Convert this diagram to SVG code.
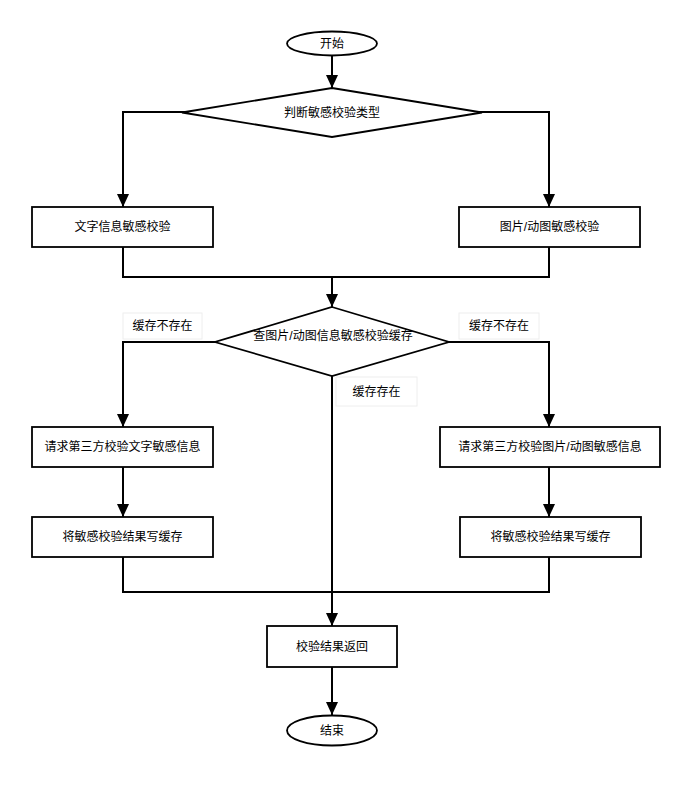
<svg xmlns="http://www.w3.org/2000/svg" width="699" height="800" viewBox="0 0 699 800">
<style>
.n{fill:#fff;stroke:#000;stroke-width:1.8}
.t{font-family:"Liberation Sans","Noto Sans CJK SC",sans-serif;font-size:12px;fill:#000;text-anchor:middle;dominant-baseline:central}
.c{fill:none;stroke:#000;stroke-width:2}
.lb{fill:#fff;stroke:#eeeeee;stroke-width:1}
</style>
<defs>
<marker id="ah" markerWidth="13" markerHeight="12" refX="13" refY="6" orient="auto" markerUnits="userSpaceOnUse">
<path d="M0,0 L13,6 L0,12 Z" fill="#000"/>
</marker>
</defs>
<rect width="699" height="800" fill="#fff"/>
<g id="connectors">
<path class="c" d="M332,55 V88" marker-end="url(#ah)"/>
<path class="c" d="M215,112 H123 V207" marker-end="url(#ah)"/>
<path class="c" d="M449,112 H549 V207" marker-end="url(#ah)"/>
<path class="c" d="M123,247 V277 H549 V247"/>
<path class="c" d="M332,277 V307" marker-end="url(#ah)"/>
<path class="c" d="M215,342 H123 V427" marker-end="url(#ah)"/>
<path class="c" d="M449,342 H549 V427" marker-end="url(#ah)"/>
<path class="c" d="M123,467 V517" marker-end="url(#ah)"/>
<path class="c" d="M549,467 V517" marker-end="url(#ah)"/>
<path class="c" d="M123,557 V592 H549 V557"/>
<path class="c" d="M332,376 V626" marker-end="url(#ah)"/>
<path class="c" d="M332,667 V715" marker-end="url(#ah)"/>
</g>
<g id="start"><ellipse class="n" cx="332" cy="43.5" rx="45" ry="12"/><text class="t" x="332" y="44">开始</text></g>
<g id="judgeType"><polygon class="n" points="332,88 482,112.5 332,137 182,112.5"/><text class="t" x="332" y="112.5">判断敏感校验类型</text></g>
<g id="textCheck"><rect class="n" x="32" y="207" width="181" height="40"/><text class="t" x="122.5" y="227">文字信息敏感校验</text></g>
<g id="imgCheck"><rect class="n" x="459" y="207" width="181" height="40"/><text class="t" x="549.5" y="227">图片/动图敏感校验</text></g>
<g id="cacheCheck"><polygon class="n" points="332,307 449,342 332,376 215,342"/><text class="t" x="333" y="336">查图片/动图信息敏感校验缓存</text></g>
<g id="lblLeft"><rect class="lb" x="123" y="313" width="79" height="26"/><text class="t" x="162.5" y="326">缓存不存在</text></g>
<g id="lblRight"><rect class="lb" x="459" y="313" width="80" height="26"/><text class="t" x="499" y="326">缓存不存在</text></g>
<g id="lblHit"><rect class="lb" x="336" y="377" width="81" height="29"/><text class="t" x="376.5" y="391.5">缓存存在</text></g>
<g id="reqText"><rect class="n" x="32" y="427" width="181" height="40"/><text class="t" x="122.5" y="447">请求第三方校验文字敏感信息</text></g>
<g id="reqImg"><rect class="n" x="440" y="427" width="220" height="40"/><text class="t" x="550" y="447">请求第三方校验图片/动图敏感信息</text></g>
<g id="writeLeft"><rect class="n" x="32" y="517" width="181" height="40"/><text class="t" x="122.5" y="537">将敏感校验结果写缓存</text></g>
<g id="writeRight"><rect class="n" x="460" y="517" width="181" height="40"/><text class="t" x="550.5" y="537">将敏感校验结果写缓存</text></g>
<g id="ret"><rect class="n" x="267" y="626" width="130" height="41"/><text class="t" x="332" y="646.5">校验结果返回</text></g>
<g id="end"><ellipse class="n" cx="332" cy="730.5" rx="45" ry="15"/><text class="t" x="332" y="730.5">结束</text></g>
</svg>
